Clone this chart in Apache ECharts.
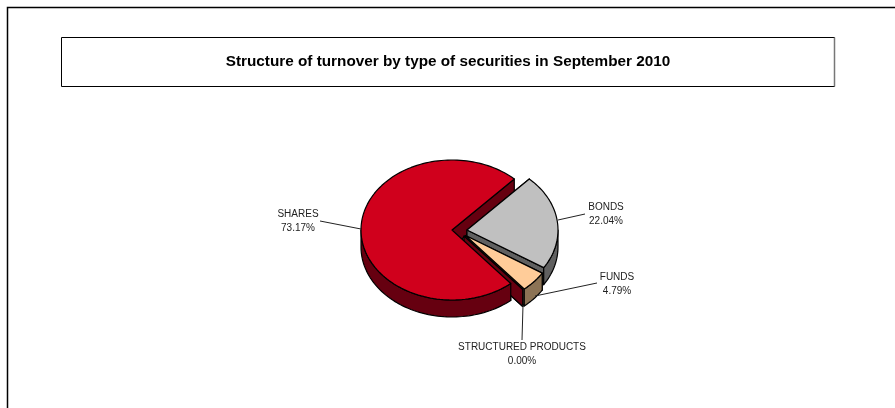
<!DOCTYPE html>
<html>
<head>
<meta charset="utf-8">
<style>html,body{margin:0;padding:0;background:#fff}#c{width:895px;height:408px}</style>
<script src="https://cdn.jsdelivr.net/npm/echarts@6/dist/echarts.min.js"></script>
</head>
<body>
<div id="c"></div>
<script>
// ---- data ----
const chartTitle = 'Structure of turnover by type of securities in September 2010';
const categories = ['BONDS', 'FUNDS', 'STRUCTURED PRODUCTS', 'SHARES'];
const shareValues = [22.04, 4.79, 0.00, 73.17];

// ---- layout & style ----
const FONT = '"Liberation Sans", Arial, sans-serif';
const pieCenter = [452, 230], radiusX = 91, radiusY = 70, depth = 17, startAngle = 43.2;
const explode = [[15, 0], [13.5, 5.5], [12, 6], [0, 0]];
const topColors  = ['#C0C0C0', '#FFCC99', '#8C0010', '#D0001C'];
const sideColors = ['#606060', '#8C7355', '#660010', '#660010'];
const wallLayer = [20, 40, 60, 10];   // paint order of the radial walls
const sideLayer = [21, 50, 61, 80];   // outer rim
const topLayer  = [30, 70, 62, 90];   // upper face
const leaders = [
  [[558, 220], [585, 214]],
  [[535, 296], [597, 283]],
  [[523, 305], [522, 340]],
  [[361, 229], [320, 221]]
];
const labelPos = [[606, 214], [617, 284], [522, 354.5], [298, 221]];

const total = shareValues.reduce((a, b) => a + b, 0);
const rimPt = (c, deg, dy) => {
  const r = deg * Math.PI / 180;
  return [c[0] + radiusX * Math.sin(r), c[1] - radiusY * Math.cos(r) + (dy || 0)];
};
const arc = (c, a0, a1, dy) => {
  const n = Math.max(1, Math.ceil(Math.abs(a1 - a0) / 2)), pts = [];
  for (let i = 0; i <= n; i++) pts.push(rimPt(c, a0 + (a1 - a0) * i / n, dy));
  return pts;
};
const poly = (points, fill, z2) => ({
  type: 'polygon', z2,
  shape: { points },
  style: { fill, stroke: '#000', lineWidth: 1.2, lineJoin: 'round' }
});

function renderSlice(params, api) {
  const i = params.dataIndex;
  const before = shareValues.slice(0, i).reduce((a, b) => a + b, 0);
  const a0 = startAngle + before / total * 360;
  const a1 = a0 + api.value(1) / total * 360;
  const c = [pieCenter[0] + explode[i][0], pieCenter[1] + explode[i][1]];
  const low = [c[0], c[1] + depth];
  const children = [];

  // radial walls
  [a0, a1].forEach(a => {
    children.push(poly([c, rimPt(c, a), rimPt(c, a, depth), low], sideColors[i], wallLayer[i]));
  });
  // outer rim, only where it faces the viewer (90..270 deg from the top)
  const s = Math.max(a0, 90), e = Math.min(a1, 270);
  if (e > s) {
    children.push(poly(arc(c, s, e).concat(arc(c, e, s, depth)), sideColors[i], sideLayer[i]));
  }
  // top face
  if (a1 > a0) {
    children.push(poly([c].concat(arc(c, a0, a1)), topColors[i], topLayer[i]));
  }
  // leader
  children.push({
    type: 'polyline', z2: 100,
    shape: { points: leaders[i] },
    style: { fill: null, stroke: '#222', lineWidth: 1 }
  });
  // label
  children.push({
    type: 'text', z2: 110,
    style: {
      x: labelPos[i][0], y: labelPos[i][1],
      text: categories[i] + '\n' + api.value(1).toFixed(2) + '%',
      font: '10px ' + FONT, fill: '#222',
      align: 'center', verticalAlign: 'middle', lineHeight: 14
    }
  });
  return { type: 'group', children };
}

const chart = echarts.init(document.getElementById('c'), null, { renderer: 'canvas' });
chart.setOption({
  animation: false,
  backgroundColor: '#fff',
  title: {
    text: chartTitle, left: 448, top: 54.5, textAlign: 'center',
    padding: 0,
    textStyle: { fontFamily: FONT, fontSize: 15.3, fontWeight: 'bold', color: '#000' }
  },
  graphic: [
    { type: 'polyline', silent: true, shape: { points: [[7.5, 408], [7.5, 7.5], [895, 7.5]] },
      style: { fill: null, stroke: '#000', lineWidth: 1.5 } },
    { type: 'rect', silent: true, shape: { x: 61.5, y: 37.5, width: 773, height: 49 },
      style: { fill: null, stroke: '#000', lineWidth: 1 } },
    { type: 'line', silent: true, shape: { x1: 834.5, y1: 37.5, x2: 834.5, y2: 86.5 },
      style: { stroke: '#777', lineWidth: 1.5 } }
  ],
  series: [{
    type: 'custom',
    coordinateSystem: 'none',
    silent: true,
    renderItem: renderSlice,
    data: categories.map((n, i) => ({ name: n, value: [i, shareValues[i]] }))
  }]
});
</script>
</body>
</html>
